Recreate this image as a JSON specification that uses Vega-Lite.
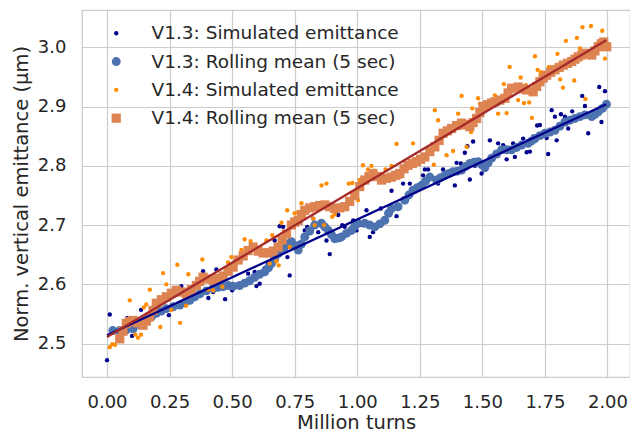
{
  "$schema": "https://vega.github.io/schema/vega-lite/v6.json",
  "width": 548,
  "height": 367,
  "autosize": {"type": "none"},
  "padding": {"left": 82, "top": 10, "right": 0, "bottom": 56},
  "background": "white",
  "config": {
    "font": "DejaVu Sans",
    "view": {"stroke": "#cccccc", "strokeWidth": 1.25},
    "axis": {
      "grid": true, "gridColor": "#cccccc", "gridWidth": 1.2,
      "domain": false, "ticks": false,
      "labelFont": "DejaVu Sans", "labelFontSize": 18, "labelColor": "#262626",
      "titleFont": "DejaVu Sans", "titleFontSize": 19.5, "titleColor": "#262626", "titleFontWeight": "normal"
    },
    "legend": {
      "orient": "none", "legendX": 25, "legendY": 14, "padding": 0,
      "labelFont": "DejaVu Sans", "labelFontSize": 18.5, "labelColor": "#262626",
      "labelOffset": 26, "rowPadding": 9.3, "symbolStrokeWidth": 0, "symbolOpacity": 1, "labelLimit": 400
    }
  },
  "data": {"values": [
    {"s":"V1.3: Simulated emittance","x":0.000,"y":2.472},{"s":"V1.3: Simulated emittance","x":0.011,"y":2.549},{"s":"V1.3: Simulated emittance","x":0.05,"y":2.52},{"s":"V1.3: Simulated emittance","x":0.080,"y":2.543},{"s":"V1.3: Simulated emittance","x":0.100,"y":2.513},{"s":"V1.3: Simulated emittance","x":0.136,"y":2.557},{"s":"V1.3: Simulated emittance","x":0.16,"y":2.54},{"s":"V1.3: Simulated emittance","x":0.2,"y":2.55},{"s":"V1.3: Simulated emittance","x":0.247,"y":2.548},{"s":"V1.3: Simulated emittance","x":0.27,"y":2.565},{"s":"V1.3: Simulated emittance","x":0.297,"y":2.597},{"s":"V1.3: Simulated emittance","x":0.317,"y":2.570},{"s":"V1.3: Simulated emittance","x":0.35,"y":2.585},{"s":"V1.3: Simulated emittance","x":0.384,"y":2.622},{"s":"V1.3: Simulated emittance","x":0.405,"y":2.577},{"s":"V1.3: Simulated emittance","x":0.424,"y":2.587},{"s":"V1.3: Simulated emittance","x":0.437,"y":2.625},{"s":"V1.3: Simulated emittance","x":0.472,"y":2.575},{"s":"V1.3: Simulated emittance","x":0.5,"y":2.59},{"s":"V1.3: Simulated emittance","x":0.530,"y":2.596},{"s":"V1.3: Simulated emittance","x":0.55,"y":2.6},{"s":"V1.3: Simulated emittance","x":0.564,"y":2.618},{"s":"V1.3: Simulated emittance","x":0.590,"y":2.621},{"s":"V1.3: Simulated emittance","x":0.597,"y":2.597},{"s":"V1.3: Simulated emittance","x":0.610,"y":2.601},{"s":"V1.3: Simulated emittance","x":0.630,"y":2.627},{"s":"V1.3: Simulated emittance","x":0.644,"y":2.635},{"s":"V1.3: Simulated emittance","x":0.66,"y":2.64},{"s":"V1.3: Simulated emittance","x":0.670,"y":2.674},{"s":"V1.3: Simulated emittance","x":0.690,"y":2.698},{"s":"V1.3: Simulated emittance","x":0.704,"y":2.697},{"s":"V1.3: Simulated emittance","x":0.721,"y":2.646},{"s":"V1.3: Simulated emittance","x":0.730,"y":2.615},{"s":"V1.3: Simulated emittance","x":0.744,"y":2.663},{"s":"V1.3: Simulated emittance","x":0.764,"y":2.669},{"s":"V1.3: Simulated emittance","x":0.790,"y":2.691},{"s":"V1.3: Simulated emittance","x":0.800,"y":2.697},{"s":"V1.3: Simulated emittance","x":0.824,"y":2.711},{"s":"V1.3: Simulated emittance","x":0.844,"y":2.688},{"s":"V1.3: Simulated emittance","x":0.870,"y":2.700},{"s":"V1.3: Simulated emittance","x":0.877,"y":2.674},{"s":"V1.3: Simulated emittance","x":0.890,"y":2.651},{"s":"V1.3: Simulated emittance","x":0.924,"y":2.717},{"s":"V1.3: Simulated emittance","x":0.94,"y":2.70},{"s":"V1.3: Simulated emittance","x":0.950,"y":2.697},{"s":"V1.3: Simulated emittance","x":0.984,"y":2.708},{"s":"V1.3: Simulated emittance","x":0.997,"y":2.691},{"s":"V1.3: Simulated emittance","x":1.02,"y":2.70},{"s":"V1.3: Simulated emittance","x":1.037,"y":2.725},{"s":"V1.3: Simulated emittance","x":1.050,"y":2.680},{"s":"V1.3: Simulated emittance","x":1.063,"y":2.688},{"s":"V1.3: Simulated emittance","x":1.094,"y":2.728},{"s":"V1.3: Simulated emittance","x":1.12,"y":2.72},{"s":"V1.3: Simulated emittance","x":1.137,"y":2.758},{"s":"V1.3: Simulated emittance","x":1.157,"y":2.715},{"s":"V1.3: Simulated emittance","x":1.183,"y":2.770},{"s":"V1.3: Simulated emittance","x":1.2,"y":2.745},{"s":"V1.3: Simulated emittance","x":1.210,"y":2.770},{"s":"V1.3: Simulated emittance","x":1.230,"y":2.756},{"s":"V1.3: Simulated emittance","x":1.263,"y":2.784},{"s":"V1.3: Simulated emittance","x":1.270,"y":2.794},{"s":"V1.3: Simulated emittance","x":1.283,"y":2.794},{"s":"V1.3: Simulated emittance","x":1.3,"y":2.78},{"s":"V1.3: Simulated emittance","x":1.323,"y":2.770},{"s":"V1.3: Simulated emittance","x":1.343,"y":2.794},{"s":"V1.3: Simulated emittance","x":1.363,"y":2.784},{"s":"V1.3: Simulated emittance","x":1.390,"y":2.767},{"s":"V1.3: Simulated emittance","x":1.397,"y":2.805},{"s":"V1.3: Simulated emittance","x":1.414,"y":2.804},{"s":"V1.3: Simulated emittance","x":1.430,"y":2.822},{"s":"V1.3: Simulated emittance","x":1.440,"y":2.833},{"s":"V1.3: Simulated emittance","x":1.450,"y":2.777},{"s":"V1.3: Simulated emittance","x":1.463,"y":2.841},{"s":"V1.3: Simulated emittance","x":1.47,"y":2.80},{"s":"V1.3: Simulated emittance","x":1.497,"y":2.787},{"s":"V1.3: Simulated emittance","x":1.510,"y":2.793},{"s":"V1.3: Simulated emittance","x":1.530,"y":2.843},{"s":"V1.3: Simulated emittance","x":1.54,"y":2.815},{"s":"V1.3: Simulated emittance","x":1.563,"y":2.838},{"s":"V1.3: Simulated emittance","x":1.583,"y":2.835},{"s":"V1.3: Simulated emittance","x":1.597,"y":2.811},{"s":"V1.3: Simulated emittance","x":1.623,"y":2.838},{"s":"V1.3: Simulated emittance","x":1.630,"y":2.815},{"s":"V1.3: Simulated emittance","x":1.65,"y":2.835},{"s":"V1.3: Simulated emittance","x":1.663,"y":2.846},{"s":"V1.3: Simulated emittance","x":1.677,"y":2.823},{"s":"V1.3: Simulated emittance","x":1.690,"y":2.824},{"s":"V1.3: Simulated emittance","x":1.703,"y":2.849},{"s":"V1.3: Simulated emittance","x":1.719,"y":2.868},{"s":"V1.3: Simulated emittance","x":1.730,"y":2.869},{"s":"V1.3: Simulated emittance","x":1.74,"y":2.85},{"s":"V1.3: Simulated emittance","x":1.757,"y":2.847},{"s":"V1.3: Simulated emittance","x":1.763,"y":2.820},{"s":"V1.3: Simulated emittance","x":1.777,"y":2.894},{"s":"V1.3: Simulated emittance","x":1.790,"y":2.883},{"s":"V1.3: Simulated emittance","x":1.797,"y":2.843},{"s":"V1.3: Simulated emittance","x":1.814,"y":2.887},{"s":"V1.3: Simulated emittance","x":1.830,"y":2.883},{"s":"V1.3: Simulated emittance","x":1.843,"y":2.863},{"s":"V1.3: Simulated emittance","x":1.859,"y":2.892},{"s":"V1.3: Simulated emittance","x":1.88,"y":2.88},{"s":"V1.3: Simulated emittance","x":1.899,"y":2.918},{"s":"V1.3: Simulated emittance","x":1.910,"y":2.901},{"s":"V1.3: Simulated emittance","x":1.923,"y":2.855},{"s":"V1.3: Simulated emittance","x":1.94,"y":2.89},{"s":"V1.3: Simulated emittance","x":1.967,"y":2.933},{"s":"V1.3: Simulated emittance","x":1.976,"y":2.874},{"s":"V1.3: Simulated emittance","x":1.990,"y":2.926},

    {"s":"V1.3: Rolling mean (5 sec)","x":0.023,"y":2.522},{"s":"V1.3: Rolling mean (5 sec)","x":0.05,"y":2.522},{"s":"V1.3: Rolling mean (5 sec)","x":0.077,"y":2.523},{"s":"V1.3: Rolling mean (5 sec)","x":0.104,"y":2.525},{"s":"V1.3: Rolling mean (5 sec)","x":0.13,"y":2.532},{"s":"V1.3: Rolling mean (5 sec)","x":0.157,"y":2.539},{"s":"V1.3: Rolling mean (5 sec)","x":0.177,"y":2.545},{"s":"V1.3: Rolling mean (5 sec)","x":0.197,"y":2.551},{"s":"V1.3: Rolling mean (5 sec)","x":0.217,"y":2.555},{"s":"V1.3: Rolling mean (5 sec)","x":0.237,"y":2.559},{"s":"V1.3: Rolling mean (5 sec)","x":0.264,"y":2.562},{"s":"V1.3: Rolling mean (5 sec)","x":0.291,"y":2.565},{"s":"V1.3: Rolling mean (5 sec)","x":0.311,"y":2.569},{"s":"V1.3: Rolling mean (5 sec)","x":0.331,"y":2.573},{"s":"V1.3: Rolling mean (5 sec)","x":0.351,"y":2.579},{"s":"V1.3: Rolling mean (5 sec)","x":0.371,"y":2.584},{"s":"V1.3: Rolling mean (5 sec)","x":0.397,"y":2.589},{"s":"V1.3: Rolling mean (5 sec)","x":0.424,"y":2.593},{"s":"V1.3: Rolling mean (5 sec)","x":0.444,"y":2.595},{"s":"V1.3: Rolling mean (5 sec)","x":0.464,"y":2.596},{"s":"V1.3: Rolling mean (5 sec)","x":0.484,"y":2.598},{"s":"V1.3: Rolling mean (5 sec)","x":0.504,"y":2.597},{"s":"V1.3: Rolling mean (5 sec)","x":0.53,"y":2.598},{"s":"V1.3: Rolling mean (5 sec)","x":0.55,"y":2.602},{"s":"V1.3: Rolling mean (5 sec)","x":0.57,"y":2.606},{"s":"V1.3: Rolling mean (5 sec)","x":0.59,"y":2.612},{"s":"V1.3: Rolling mean (5 sec)","x":0.61,"y":2.617},{"s":"V1.3: Rolling mean (5 sec)","x":0.63,"y":2.621},{"s":"V1.3: Rolling mean (5 sec)","x":0.645,"y":2.628},{"s":"V1.3: Rolling mean (5 sec)","x":0.657,"y":2.635},{"s":"V1.3: Rolling mean (5 sec)","x":0.67,"y":2.643},{"s":"V1.3: Rolling mean (5 sec)","x":0.684,"y":2.652},{"s":"V1.3: Rolling mean (5 sec)","x":0.697,"y":2.658},{"s":"V1.3: Rolling mean (5 sec)","x":0.71,"y":2.663},{"s":"V1.3: Rolling mean (5 sec)","x":0.724,"y":2.668},{"s":"V1.3: Rolling mean (5 sec)","x":0.737,"y":2.672},{"s":"V1.3: Rolling mean (5 sec)","x":0.75,"y":2.665},{"s":"V1.3: Rolling mean (5 sec)","x":0.764,"y":2.658},{"s":"V1.3: Rolling mean (5 sec)","x":0.777,"y":2.668},{"s":"V1.3: Rolling mean (5 sec)","x":0.79,"y":2.680},{"s":"V1.3: Rolling mean (5 sec)","x":0.81,"y":2.690},{"s":"V1.3: Rolling mean (5 sec)","x":0.83,"y":2.700},{"s":"V1.3: Rolling mean (5 sec)","x":0.857,"y":2.703},{"s":"V1.3: Rolling mean (5 sec)","x":0.87,"y":2.697},{"s":"V1.3: Rolling mean (5 sec)","x":0.884,"y":2.691},{"s":"V1.3: Rolling mean (5 sec)","x":0.897,"y":2.684},{"s":"V1.3: Rolling mean (5 sec)","x":0.91,"y":2.677},{"s":"V1.3: Rolling mean (5 sec)","x":0.924,"y":2.678},{"s":"V1.3: Rolling mean (5 sec)","x":0.937,"y":2.680},{"s":"V1.3: Rolling mean (5 sec)","x":0.957,"y":2.686},{"s":"V1.3: Rolling mean (5 sec)","x":0.977,"y":2.691},{"s":"V1.3: Rolling mean (5 sec)","x":0.99,"y":2.698},{"s":"V1.3: Rolling mean (5 sec)","x":1.003,"y":2.703},{"s":"V1.3: Rolling mean (5 sec)","x":1.03,"y":2.703},{"s":"V1.3: Rolling mean (5 sec)","x":1.05,"y":2.700},{"s":"V1.3: Rolling mean (5 sec)","x":1.07,"y":2.697},{"s":"V1.3: Rolling mean (5 sec)","x":1.09,"y":2.702},{"s":"V1.3: Rolling mean (5 sec)","x":1.11,"y":2.708},{"s":"V1.3: Rolling mean (5 sec)","x":1.125,"y":2.720},{"s":"V1.3: Rolling mean (5 sec)","x":1.137,"y":2.728},{"s":"V1.3: Rolling mean (5 sec)","x":1.163,"y":2.731},{"s":"V1.3: Rolling mean (5 sec)","x":1.19,"y":2.742},{"s":"V1.3: Rolling mean (5 sec)","x":1.207,"y":2.751},{"s":"V1.3: Rolling mean (5 sec)","x":1.223,"y":2.759},{"s":"V1.3: Rolling mean (5 sec)","x":1.24,"y":2.763},{"s":"V1.3: Rolling mean (5 sec)","x":1.257,"y":2.767},{"s":"V1.3: Rolling mean (5 sec)","x":1.273,"y":2.774},{"s":"V1.3: Rolling mean (5 sec)","x":1.29,"y":2.781},{"s":"V1.3: Rolling mean (5 sec)","x":1.317,"y":2.776},{"s":"V1.3: Rolling mean (5 sec)","x":1.333,"y":2.780},{"s":"V1.3: Rolling mean (5 sec)","x":1.35,"y":2.784},{"s":"V1.3: Rolling mean (5 sec)","x":1.367,"y":2.787},{"s":"V1.3: Rolling mean (5 sec)","x":1.383,"y":2.790},{"s":"V1.3: Rolling mean (5 sec)","x":1.4,"y":2.791},{"s":"V1.3: Rolling mean (5 sec)","x":1.417,"y":2.793},{"s":"V1.3: Rolling mean (5 sec)","x":1.433,"y":2.799},{"s":"V1.3: Rolling mean (5 sec)","x":1.45,"y":2.804},{"s":"V1.3: Rolling mean (5 sec)","x":1.467,"y":2.806},{"s":"V1.3: Rolling mean (5 sec)","x":1.483,"y":2.807},{"s":"V1.3: Rolling mean (5 sec)","x":1.497,"y":2.802},{"s":"V1.3: Rolling mean (5 sec)","x":1.51,"y":2.797},{"s":"V1.3: Rolling mean (5 sec)","x":1.523,"y":2.805},{"s":"V1.3: Rolling mean (5 sec)","x":1.537,"y":2.813},{"s":"V1.3: Rolling mean (5 sec)","x":1.557,"y":2.820},{"s":"V1.3: Rolling mean (5 sec)","x":1.577,"y":2.827},{"s":"V1.3: Rolling mean (5 sec)","x":1.597,"y":2.827},{"s":"V1.3: Rolling mean (5 sec)","x":1.617,"y":2.827},{"s":"V1.3: Rolling mean (5 sec)","x":1.637,"y":2.831},{"s":"V1.3: Rolling mean (5 sec)","x":1.657,"y":2.835},{"s":"V1.3: Rolling mean (5 sec)","x":1.683,"y":2.838},{"s":"V1.3: Rolling mean (5 sec)","x":1.697,"y":2.842},{"s":"V1.3: Rolling mean (5 sec)","x":1.71,"y":2.846},{"s":"V1.3: Rolling mean (5 sec)","x":1.73,"y":2.851},{"s":"V1.3: Rolling mean (5 sec)","x":1.75,"y":2.855},{"s":"V1.3: Rolling mean (5 sec)","x":1.77,"y":2.857},{"s":"V1.3: Rolling mean (5 sec)","x":1.79,"y":2.860},{"s":"V1.3: Rolling mean (5 sec)","x":1.81,"y":2.867},{"s":"V1.3: Rolling mean (5 sec)","x":1.83,"y":2.874},{"s":"V1.3: Rolling mean (5 sec)","x":1.85,"y":2.877},{"s":"V1.3: Rolling mean (5 sec)","x":1.87,"y":2.880},{"s":"V1.3: Rolling mean (5 sec)","x":1.89,"y":2.883},{"s":"V1.3: Rolling mean (5 sec)","x":1.91,"y":2.886},{"s":"V1.3: Rolling mean (5 sec)","x":1.937,"y":2.883},{"s":"V1.3: Rolling mean (5 sec)","x":1.95,"y":2.887},{"s":"V1.3: Rolling mean (5 sec)","x":1.963,"y":2.891},{"s":"V1.3: Rolling mean (5 sec)","x":1.98,"y":2.897},{"s":"V1.3: Rolling mean (5 sec)","x":1.996,"y":2.904},

    {"s":"V1.4: Simulated emittance","x":0.011,"y":2.494},{"s":"V1.4: Simulated emittance","x":0.021,"y":2.499},{"s":"V1.4: Simulated emittance","x":0.032,"y":2.498},{"s":"V1.4: Simulated emittance","x":0.091,"y":2.573},{"s":"V1.4: Simulated emittance","x":0.113,"y":2.515},{"s":"V1.4: Simulated emittance","x":0.124,"y":2.510},{"s":"V1.4: Simulated emittance","x":0.136,"y":2.515},{"s":"V1.4: Simulated emittance","x":0.147,"y":2.561},{"s":"V1.4: Simulated emittance","x":0.157,"y":2.566},{"s":"V1.4: Simulated emittance","x":0.171,"y":2.591},{"s":"V1.4: Simulated emittance","x":0.213,"y":2.528},{"s":"V1.4: Simulated emittance","x":0.224,"y":2.619},{"s":"V1.4: Simulated emittance","x":0.237,"y":2.600},{"s":"V1.4: Simulated emittance","x":0.257,"y":2.557},{"s":"V1.4: Simulated emittance","x":0.281,"y":2.633},{"s":"V1.4: Simulated emittance","x":0.292,"y":2.535},{"s":"V1.4: Simulated emittance","x":0.316,"y":2.564},{"s":"V1.4: Simulated emittance","x":0.325,"y":2.617},{"s":"V1.4: Simulated emittance","x":0.381,"y":2.642},{"s":"V1.4: Simulated emittance","x":0.405,"y":2.591},{"s":"V1.4: Simulated emittance","x":0.424,"y":2.590},{"s":"V1.4: Simulated emittance","x":0.461,"y":2.596},{"s":"V1.4: Simulated emittance","x":0.484,"y":2.637},{"s":"V1.4: Simulated emittance","x":0.497,"y":2.646},{"s":"V1.4: Simulated emittance","x":0.537,"y":2.658},{"s":"V1.4: Simulated emittance","x":0.550,"y":2.676},{"s":"V1.4: Simulated emittance","x":0.564,"y":2.659},{"s":"V1.4: Simulated emittance","x":0.574,"y":2.673},{"s":"V1.4: Simulated emittance","x":0.637,"y":2.674},{"s":"V1.4: Simulated emittance","x":0.650,"y":2.635},{"s":"V1.4: Simulated emittance","x":0.660,"y":2.683},{"s":"V1.4: Simulated emittance","x":0.677,"y":2.639},{"s":"V1.4: Simulated emittance","x":0.686,"y":2.632},{"s":"V1.4: Simulated emittance","x":0.697,"y":2.704},{"s":"V1.4: Simulated emittance","x":0.720,"y":2.725},{"s":"V1.4: Simulated emittance","x":0.730,"y":2.663},{"s":"V1.4: Simulated emittance","x":0.750,"y":2.720},{"s":"V1.4: Simulated emittance","x":0.764,"y":2.722},{"s":"V1.4: Simulated emittance","x":0.777,"y":2.737},{"s":"V1.4: Simulated emittance","x":0.824,"y":2.711},{"s":"V1.4: Simulated emittance","x":0.830,"y":2.700},{"s":"V1.4: Simulated emittance","x":0.857,"y":2.767},{"s":"V1.4: Simulated emittance","x":0.867,"y":2.700},{"s":"V1.4: Simulated emittance","x":0.877,"y":2.770},{"s":"V1.4: Simulated emittance","x":0.900,"y":2.714},{"s":"V1.4: Simulated emittance","x":0.910,"y":2.718},{"s":"V1.4: Simulated emittance","x":0.966,"y":2.770},{"s":"V1.4: Simulated emittance","x":0.980,"y":2.771},{"s":"V1.4: Simulated emittance","x":1.003,"y":2.742},{"s":"V1.4: Simulated emittance","x":1.010,"y":2.776},{"s":"V1.4: Simulated emittance","x":1.023,"y":2.801},{"s":"V1.4: Simulated emittance","x":1.043,"y":2.794},{"s":"V1.4: Simulated emittance","x":1.057,"y":2.800},{"s":"V1.4: Simulated emittance","x":1.067,"y":2.792},{"s":"V1.4: Simulated emittance","x":1.113,"y":2.794},{"s":"V1.4: Simulated emittance","x":1.137,"y":2.800},{"s":"V1.4: Simulated emittance","x":1.157,"y":2.837},{"s":"V1.4: Simulated emittance","x":1.170,"y":2.781},{"s":"V1.4: Simulated emittance","x":1.223,"y":2.838},{"s":"V1.4: Simulated emittance","x":1.237,"y":2.807},{"s":"V1.4: Simulated emittance","x":1.306,"y":2.802},{"s":"V1.4: Simulated emittance","x":1.310,"y":2.894},{"s":"V1.4: Simulated emittance","x":1.323,"y":2.877},{"s":"V1.4: Simulated emittance","x":1.357,"y":2.818},{"s":"V1.4: Simulated emittance","x":1.383,"y":2.825},{"s":"V1.4: Simulated emittance","x":1.403,"y":2.888},{"s":"V1.4: Simulated emittance","x":1.417,"y":2.918},{"s":"V1.4: Simulated emittance","x":1.437,"y":2.832},{"s":"V1.4: Simulated emittance","x":1.440,"y":2.874},{"s":"V1.4: Simulated emittance","x":1.455,"y":2.857},{"s":"V1.4: Simulated emittance","x":1.460,"y":2.897},{"s":"V1.4: Simulated emittance","x":1.483,"y":2.914},{"s":"V1.4: Simulated emittance","x":1.490,"y":2.905},{"s":"V1.4: Simulated emittance","x":1.550,"y":2.919},{"s":"V1.4: Simulated emittance","x":1.563,"y":2.888},{"s":"V1.4: Simulated emittance","x":1.586,"y":2.938},{"s":"V1.4: Simulated emittance","x":1.597,"y":2.889},{"s":"V1.4: Simulated emittance","x":1.609,"y":2.967},{"s":"V1.4: Simulated emittance","x":1.643,"y":2.911},{"s":"V1.4: Simulated emittance","x":1.653,"y":2.949},{"s":"V1.4: Simulated emittance","x":1.666,"y":2.906},{"s":"V1.4: Simulated emittance","x":1.674,"y":2.936},{"s":"V1.4: Simulated emittance","x":1.687,"y":2.907},{"s":"V1.4: Simulated emittance","x":1.698,"y":2.881},{"s":"V1.4: Simulated emittance","x":1.710,"y":2.985},{"s":"V1.4: Simulated emittance","x":1.721,"y":2.962},{"s":"V1.4: Simulated emittance","x":1.734,"y":2.958},{"s":"V1.4: Simulated emittance","x":1.766,"y":2.967},{"s":"V1.4: Simulated emittance","x":1.783,"y":2.966},{"s":"V1.4: Simulated emittance","x":1.800,"y":2.989},{"s":"V1.4: Simulated emittance","x":1.811,"y":2.946},{"s":"V1.4: Simulated emittance","x":1.822,"y":2.932},{"s":"V1.4: Simulated emittance","x":1.834,"y":3.011},{"s":"V1.4: Simulated emittance","x":1.867,"y":2.944},{"s":"V1.4: Simulated emittance","x":1.878,"y":3.016},{"s":"V1.4: Simulated emittance","x":1.890,"y":2.998},{"s":"V1.4: Simulated emittance","x":1.900,"y":3.034},{"s":"V1.4: Simulated emittance","x":1.912,"y":2.913},{"s":"V1.4: Simulated emittance","x":1.934,"y":3.036},{"s":"V1.4: Simulated emittance","x":1.979,"y":3.028},{"s":"V1.4: Simulated emittance","x":1.990,"y":2.981},

    {"s":"V1.4: Rolling mean (5 sec)","x":0.051,"y":2.508},{"s":"V1.4: Rolling mean (5 sec)","x":0.064,"y":2.521},{"s":"V1.4: Rolling mean (5 sec)","x":0.077,"y":2.534},{"s":"V1.4: Rolling mean (5 sec)","x":0.09,"y":2.537},{"s":"V1.4: Rolling mean (5 sec)","x":0.104,"y":2.539},{"s":"V1.4: Rolling mean (5 sec)","x":0.124,"y":2.535},{"s":"V1.4: Rolling mean (5 sec)","x":0.144,"y":2.531},{"s":"V1.4: Rolling mean (5 sec)","x":0.157,"y":2.538},{"s":"V1.4: Rolling mean (5 sec)","x":0.17,"y":2.545},{"s":"V1.4: Rolling mean (5 sec)","x":0.184,"y":2.556},{"s":"V1.4: Rolling mean (5 sec)","x":0.197,"y":2.568},{"s":"V1.4: Rolling mean (5 sec)","x":0.217,"y":2.574},{"s":"V1.4: Rolling mean (5 sec)","x":0.237,"y":2.579},{"s":"V1.4: Rolling mean (5 sec)","x":0.257,"y":2.585},{"s":"V1.4: Rolling mean (5 sec)","x":0.277,"y":2.590},{"s":"V1.4: Rolling mean (5 sec)","x":0.297,"y":2.587},{"s":"V1.4: Rolling mean (5 sec)","x":0.317,"y":2.584},{"s":"V1.4: Rolling mean (5 sec)","x":0.337,"y":2.591},{"s":"V1.4: Rolling mean (5 sec)","x":0.357,"y":2.598},{"s":"V1.4: Rolling mean (5 sec)","x":0.37,"y":2.605},{"s":"V1.4: Rolling mean (5 sec)","x":0.384,"y":2.612},{"s":"V1.4: Rolling mean (5 sec)","x":0.404,"y":2.609},{"s":"V1.4: Rolling mean (5 sec)","x":0.424,"y":2.607},{"s":"V1.4: Rolling mean (5 sec)","x":0.444,"y":2.610},{"s":"V1.4: Rolling mean (5 sec)","x":0.464,"y":2.614},{"s":"V1.4: Rolling mean (5 sec)","x":0.484,"y":2.622},{"s":"V1.4: Rolling mean (5 sec)","x":0.504,"y":2.629},{"s":"V1.4: Rolling mean (5 sec)","x":0.524,"y":2.641},{"s":"V1.4: Rolling mean (5 sec)","x":0.544,"y":2.648},{"s":"V1.4: Rolling mean (5 sec)","x":0.564,"y":2.657},{"s":"V1.4: Rolling mean (5 sec)","x":0.584,"y":2.663},{"s":"V1.4: Rolling mean (5 sec)","x":0.604,"y":2.656},{"s":"V1.4: Rolling mean (5 sec)","x":0.624,"y":2.653},{"s":"V1.4: Rolling mean (5 sec)","x":0.644,"y":2.653},{"s":"V1.4: Rolling mean (5 sec)","x":0.664,"y":2.656},{"s":"V1.4: Rolling mean (5 sec)","x":0.684,"y":2.663},{"s":"V1.4: Rolling mean (5 sec)","x":0.70,"y":2.675},{"s":"V1.4: Rolling mean (5 sec)","x":0.717,"y":2.685},{"s":"V1.4: Rolling mean (5 sec)","x":0.737,"y":2.700},{"s":"V1.4: Rolling mean (5 sec)","x":0.75,"y":2.705},{"s":"V1.4: Rolling mean (5 sec)","x":0.764,"y":2.708},{"s":"V1.4: Rolling mean (5 sec)","x":0.777,"y":2.717},{"s":"V1.4: Rolling mean (5 sec)","x":0.79,"y":2.725},{"s":"V1.4: Rolling mean (5 sec)","x":0.81,"y":2.729},{"s":"V1.4: Rolling mean (5 sec)","x":0.83,"y":2.731},{"s":"V1.4: Rolling mean (5 sec)","x":0.85,"y":2.733},{"s":"V1.4: Rolling mean (5 sec)","x":0.87,"y":2.734},{"s":"V1.4: Rolling mean (5 sec)","x":0.89,"y":2.731},{"s":"V1.4: Rolling mean (5 sec)","x":0.91,"y":2.728},{"s":"V1.4: Rolling mean (5 sec)","x":0.93,"y":2.729},{"s":"V1.4: Rolling mean (5 sec)","x":0.95,"y":2.731},{"s":"V1.4: Rolling mean (5 sec)","x":0.97,"y":2.740},{"s":"V1.4: Rolling mean (5 sec)","x":0.99,"y":2.750},{"s":"V1.4: Rolling mean (5 sec)","x":1.01,"y":2.765},{"s":"V1.4: Rolling mean (5 sec)","x":1.03,"y":2.776},{"s":"V1.4: Rolling mean (5 sec)","x":1.047,"y":2.782},{"s":"V1.4: Rolling mean (5 sec)","x":1.063,"y":2.787},{"s":"V1.4: Rolling mean (5 sec)","x":1.08,"y":2.782},{"s":"V1.4: Rolling mean (5 sec)","x":1.097,"y":2.776},{"s":"V1.4: Rolling mean (5 sec)","x":1.117,"y":2.779},{"s":"V1.4: Rolling mean (5 sec)","x":1.137,"y":2.781},{"s":"V1.4: Rolling mean (5 sec)","x":1.153,"y":2.784},{"s":"V1.4: Rolling mean (5 sec)","x":1.17,"y":2.787},{"s":"V1.4: Rolling mean (5 sec)","x":1.187,"y":2.795},{"s":"V1.4: Rolling mean (5 sec)","x":1.203,"y":2.801},{"s":"V1.4: Rolling mean (5 sec)","x":1.22,"y":2.804},{"s":"V1.4: Rolling mean (5 sec)","x":1.237,"y":2.807},{"s":"V1.4: Rolling mean (5 sec)","x":1.253,"y":2.811},{"s":"V1.4: Rolling mean (5 sec)","x":1.27,"y":2.815},{"s":"V1.4: Rolling mean (5 sec)","x":1.29,"y":2.824},{"s":"V1.4: Rolling mean (5 sec)","x":1.31,"y":2.832},{"s":"V1.4: Rolling mean (5 sec)","x":1.327,"y":2.843},{"s":"V1.4: Rolling mean (5 sec)","x":1.343,"y":2.855},{"s":"V1.4: Rolling mean (5 sec)","x":1.36,"y":2.859},{"s":"V1.4: Rolling mean (5 sec)","x":1.377,"y":2.863},{"s":"V1.4: Rolling mean (5 sec)","x":1.397,"y":2.868},{"s":"V1.4: Rolling mean (5 sec)","x":1.417,"y":2.872},{"s":"V1.4: Rolling mean (5 sec)","x":1.433,"y":2.869},{"s":"V1.4: Rolling mean (5 sec)","x":1.45,"y":2.866},{"s":"V1.4: Rolling mean (5 sec)","x":1.463,"y":2.873},{"s":"V1.4: Rolling mean (5 sec)","x":1.477,"y":2.880},{"s":"V1.4: Rolling mean (5 sec)","x":1.49,"y":2.890},{"s":"V1.4: Rolling mean (5 sec)","x":1.503,"y":2.900},{"s":"V1.4: Rolling mean (5 sec)","x":1.52,"y":2.903},{"s":"V1.4: Rolling mean (5 sec)","x":1.537,"y":2.906},{"s":"V1.4: Rolling mean (5 sec)","x":1.55,"y":2.908},{"s":"V1.4: Rolling mean (5 sec)","x":1.57,"y":2.911},{"s":"V1.4: Rolling mean (5 sec)","x":1.59,"y":2.914},{"s":"V1.4: Rolling mean (5 sec)","x":1.603,"y":2.923},{"s":"V1.4: Rolling mean (5 sec)","x":1.617,"y":2.931},{"s":"V1.4: Rolling mean (5 sec)","x":1.643,"y":2.933},{"s":"V1.4: Rolling mean (5 sec)","x":1.66,"y":2.930},{"s":"V1.4: Rolling mean (5 sec)","x":1.677,"y":2.928},{"s":"V1.4: Rolling mean (5 sec)","x":1.703,"y":2.925},{"s":"V1.4: Rolling mean (5 sec)","x":1.717,"y":2.934},{"s":"V1.4: Rolling mean (5 sec)","x":1.73,"y":2.942},{"s":"V1.4: Rolling mean (5 sec)","x":1.743,"y":2.948},{"s":"V1.4: Rolling mean (5 sec)","x":1.757,"y":2.953},{"s":"V1.4: Rolling mean (5 sec)","x":1.773,"y":2.958},{"s":"V1.4: Rolling mean (5 sec)","x":1.79,"y":2.962},{"s":"V1.4: Rolling mean (5 sec)","x":1.807,"y":2.966},{"s":"V1.4: Rolling mean (5 sec)","x":1.823,"y":2.970},{"s":"V1.4: Rolling mean (5 sec)","x":1.84,"y":2.973},{"s":"V1.4: Rolling mean (5 sec)","x":1.857,"y":2.976},{"s":"V1.4: Rolling mean (5 sec)","x":1.87,"y":2.980},{"s":"V1.4: Rolling mean (5 sec)","x":1.883,"y":2.984},{"s":"V1.4: Rolling mean (5 sec)","x":1.897,"y":2.987},{"s":"V1.4: Rolling mean (5 sec)","x":1.91,"y":2.990},{"s":"V1.4: Rolling mean (5 sec)","x":1.923,"y":2.989},{"s":"V1.4: Rolling mean (5 sec)","x":1.937,"y":2.987},{"s":"V1.4: Rolling mean (5 sec)","x":1.95,"y":2.994},{"s":"V1.4: Rolling mean (5 sec)","x":1.963,"y":3.001},{"s":"V1.4: Rolling mean (5 sec)","x":1.975,"y":3.006},{"s":"V1.4: Rolling mean (5 sec)","x":1.985,"y":3.009},{"s":"V1.4: Rolling mean (5 sec)","x":1.997,"y":3.001},

    {"s":"fit13","x":0.0,"y":2.514},{"s":"fit13","x":1.995,"y":2.904},
    {"s":"fit14","x":0.0,"y":2.511},{"s":"fit14","x":1.995,"y":3.012}
  ]},
  "layer": [
    {
      "transform": [{"filter": "datum.s !== 'fit13' && datum.s !== 'fit14'"}],
      "mark": {"type": "point", "filled": true, "opacity": 1, "strokeWidth": 0},
      "encoding": {
        "x": {"field": "x", "type": "quantitative",
              "scale": {"domain": [-0.1, 2.09], "nice": false, "zero": false},
              "axis": {"title": "Million turns", "values": [0, 0.25, 0.5, 0.75, 1.0, 1.25, 1.5, 1.75, 2.0], "format": ".2f", "labelPadding": 16, "titlePadding": 2}},
        "y": {"field": "y", "type": "quantitative",
              "scale": {"domain": [2.4436, 3.063], "nice": false, "zero": false},
              "axis": {"title": "Norm. vertical emittance (μm)", "values": [2.5, 2.6, 2.7, 2.8, 2.9, 3.0], "format": ".1f", "labelPadding": 16, "titlePadding": 6}},
        "color": {"field": "s", "type": "nominal", "title": null,
                  "scale": {"domain": ["V1.3: Simulated emittance", "V1.3: Rolling mean (5 sec)", "V1.4: Simulated emittance", "V1.4: Rolling mean (5 sec)"],
                            "range": ["#00008b", "#4c72b0", "#ff8c00", "#dd8452"]}},
        "shape": {"field": "s", "type": "nominal", "title": null,
                  "scale": {"domain": ["V1.3: Simulated emittance", "V1.3: Rolling mean (5 sec)", "V1.4: Simulated emittance", "V1.4: Rolling mean (5 sec)"],
                            "range": ["circle", "circle", "circle", "square"]}},
        "size": {"field": "s", "type": "nominal", "title": null,
                 "scale": {"type": "ordinal", "domain": ["V1.3: Simulated emittance", "V1.3: Rolling mean (5 sec)", "V1.4: Simulated emittance", "V1.4: Rolling mean (5 sec)"],
                           "range": [19, 80, 19, 85]}}
      }
    },
    {
      "transform": [{"filter": "datum.s === 'fit13'"}],
      "mark": {"type": "line", "color": "#00008b", "strokeWidth": 2.3},
      "encoding": {"x": {"field": "x", "type": "quantitative"}, "y": {"field": "y", "type": "quantitative"}}
    },
    {
      "transform": [{"filter": "datum.s === 'fit14'"}],
      "mark": {"type": "line", "color": "#a52a2a", "strokeWidth": 2.3},
      "encoding": {"x": {"field": "x", "type": "quantitative"}, "y": {"field": "y", "type": "quantitative"}}
    }
  ]
}
